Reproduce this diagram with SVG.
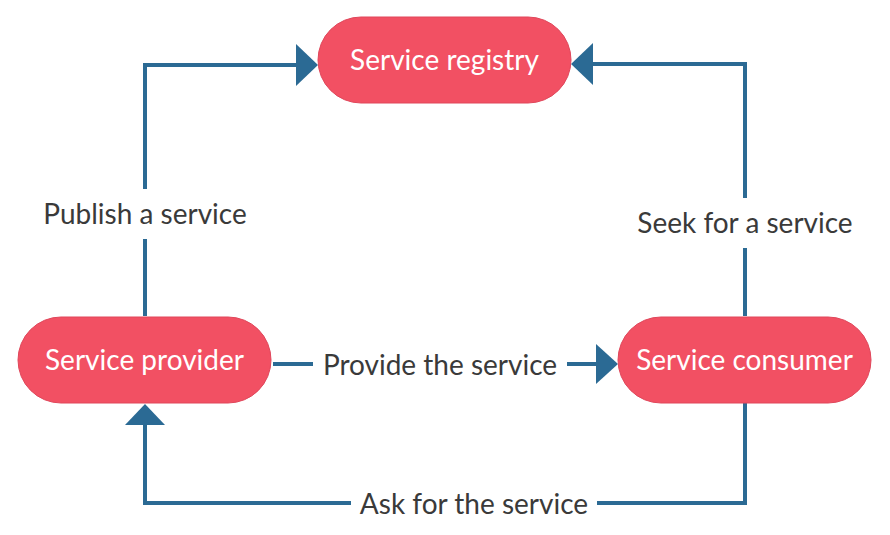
<svg xmlns="http://www.w3.org/2000/svg" width="890" height="535" viewBox="0 0 890 535">
<style>
.node{fill:#f25063;stroke:#e0465a;stroke-width:1}
.nt{font-family:Lato,"Liberation Sans",sans-serif;font-size:28px;fill:#ffffff;text-anchor:middle;dominant-baseline:central}
.edge{fill:none;stroke:#2b6a94;stroke-width:4}
.head{fill:#2b6a94}
.lbl{font-family:Lato,"Liberation Sans",sans-serif;font-size:28px;fill:#3a3a3a;text-anchor:middle;dominant-baseline:central}
.bg{fill:#ffffff}
</style>
<rect width="890" height="535" fill="#ffffff"/>
<g id="connectors">
  <g id="publish">
    <path class="edge" d="M145,316 V65 H298"/>
    <polygon class="head" points="318,65 296,44 296,86"/>
    <rect class="bg" x="38" y="189" width="214" height="50"/>
    <text class="lbl" x="145" y="213">Publish a service</text>
  </g>
  <g id="seek">
    <path class="edge" d="M745,316 V64 H591"/>
    <polygon class="head" points="571,64 593,43 593,85"/>
    <rect class="bg" x="632" y="198" width="226" height="50"/>
    <text class="lbl" x="745" y="222">Seek for a service</text>
  </g>
  <g id="provide">
    <path class="edge" d="M273,364 H598"/>
    <polygon class="head" points="618,364 596,344 596,384"/>
    <rect class="bg" x="313" y="340" width="254" height="48"/>
    <text class="lbl" x="440" y="364">Provide the service</text>
  </g>
  <g id="ask">
    <path class="edge" d="M745,403 V503 H145 V424"/>
    <polygon class="head" points="145,404 125,425 165,425"/>
    <rect class="bg" x="351" y="480" width="246" height="48"/>
    <text class="lbl" x="474" y="503">Ask for the service</text>
  </g>
</g>
<g id="registry">
  <rect class="node" x="318" y="17" width="253" height="86" rx="43"/>
  <text class="nt" x="444.5" y="59">Service registry</text>
</g>
<g id="provider">
  <rect class="node" x="18" y="317" width="253" height="86" rx="43"/>
  <text class="nt" x="144.5" y="359">Service provider</text>
</g>
<g id="consumer">
  <rect class="node" x="618" y="317" width="253" height="86" rx="43"/>
  <text class="nt" x="744.5" y="359">Service consumer</text>
</g>
</svg>
